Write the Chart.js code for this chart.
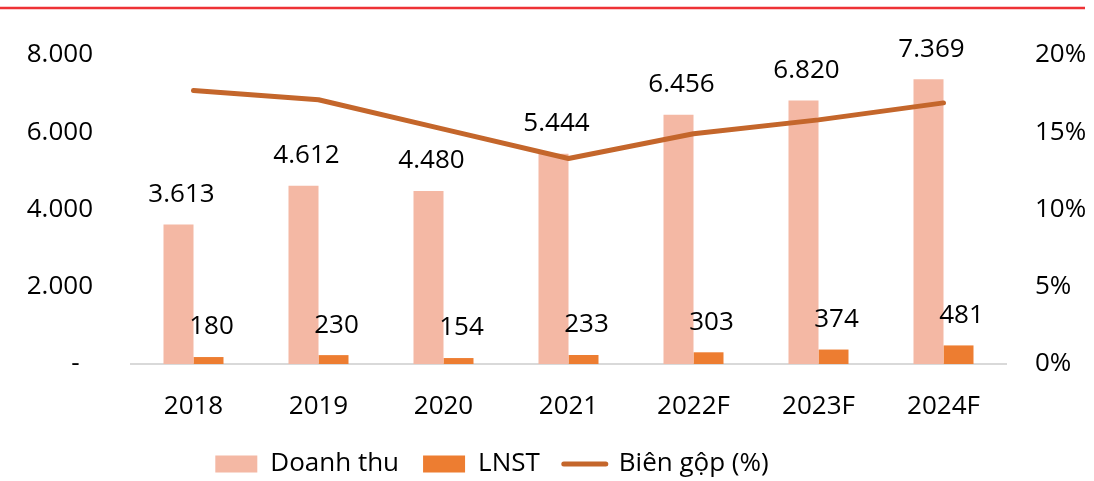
<!DOCTYPE html>
<html>
<head>
<meta charset="utf-8">
<script src="https://cdn.jsdelivr.net/npm/chart.js@4.4.1/dist/chart.umd.min.js"></script>
<style>
  html, body { margin: 0; padding: 0; background: #fff; }
  #wrap { width: 1094px; height: 481px; position: relative; }
</style>
</head>
<body>
<div id="wrap"><canvas id="revChart"></canvas></div>
<script>
// Dữ liệu biểu đồ
const years = ['2018', '2019', '2020', '2021', '2022F', '2023F', '2024F'];
const doanhThu = [3613, 4612, 4480, 5444, 6456, 6820, 7369];
const lnst = [180, 230, 154, 233, 303, 374, 481];
const bienGop = [17.7, 17.1, 15.2, 13.3, 14.9, 15.8, 16.9];

const FONT = "'Open Sans', 'Noto Sans', sans-serif";
const FS = 26;

// định dạng số kiểu Việt Nam: 3.613
function fmtVN(v) {
    return String(Math.round(v)).replace(/\B(?=(\d{3})+(?!\d))/g, '.');
}

// vạch đỏ phía trên
const topRule = {
    id: 'topRule',
    beforeDraw(chart) {
        const ctx = chart.ctx;
        ctx.save();
        ctx.strokeStyle = '#EE3236';
        ctx.lineWidth = 2.5;
        ctx.beginPath();
        ctx.moveTo(0, 8);
        ctx.lineTo(1085, 8);
        ctx.stroke();
        ctx.restore();
    }
};

// nhãn giá trị trên cột (không có plugin datalabels offline)
const barValueLabels = {
    id: 'barValueLabels',
    afterDatasetsDraw(chart) {
        const ctx = chart.ctx;
        ctx.save();
        ctx.font = FS + 'px ' + FONT;
        ctx.fillStyle = '#000';
        ctx.textAlign = 'center';
        ctx.textBaseline = 'middle';
        [0, 1].forEach(function(di) {
            const meta = chart.getDatasetMeta(di);
            meta.data.forEach(function(bar, i) {
                const v = chart.data.datasets[di].data[i];
                ctx.fillText(fmtVN(v), bar.x + 3, bar.y - 30);
            });
        });
        ctx.restore();
    }
};

// dịch chú thích sang trái như bản gốc
const legendShift = {
    id: 'legendShift',
    afterLayout(chart) {
        const lg = chart.legend;
        if (!lg) return;
        lg.left -= 55;
        lg.right -= 55;
    }
};

const ctx = document.getElementById('revChart').getContext('2d');
new Chart(ctx, {
    type: 'bar',
    data: {
        labels: years,
        datasets: [
            {
                label: 'Doanh thu',
                data: doanhThu,
                backgroundColor: '#F4B8A4',
                yAxisID: 'y',
                order: 1,
                categoryPercentage: 0.48,
                barPercentage: 1.0
            },
            {
                label: 'LNST',
                data: lnst,
                backgroundColor: '#ED7D31',
                yAxisID: 'y',
                order: 1,
                categoryPercentage: 0.48,
                barPercentage: 1.0
            },
            {
                type: 'line',
                label: 'Biên gộp (%)',
                data: bienGop,
                borderColor: '#C4662B',
                backgroundColor: '#C4662B',
                borderWidth: 5,
                borderCapStyle: 'round',
                borderJoinStyle: 'round',
                pointRadius: 0,
                tension: 0,
                yAxisID: 'y1',
                order: 0
            }
        ]
    },
    options: {
        responsive: true,
        maintainAspectRatio: false,
        animation: false,
        layout: {
            padding: { top: 55, left: 0, right: 0, bottom: -6 }
        },
        plugins: {
            legend: {
                position: 'bottom',
                labels: {
                    usePointStyle: true,
                    pointStyleWidth: 42,
                    boxHeight: 17,
                    padding: 24,
                    color: '#000',
                    font: { family: FONT, size: FS },
                    sort: function(a, b) { return a.datasetIndex - b.datasetIndex; },
                    generateLabels: function(chart) {
                        return chart.data.datasets.map(function(ds, i) {
                            const isLine = ds.type === 'line';
                            return {
                                text: ds.label,
                                fillStyle: isLine ? ds.borderColor : ds.backgroundColor,
                                strokeStyle: isLine ? ds.borderColor : ds.backgroundColor,
                                lineWidth: isLine ? 5 : 0,
                                lineCap: 'round',
                                pointStyle: isLine ? 'line' : 'rect',
                                datasetIndex: i,
                                hidden: false
                            };
                        });
                    }
                }
            },
            tooltip: { enabled: false }
        },
        scales: {
            x: {
                grid: { display: false, drawTicks: false },
                border: { display: true, color: '#D9D9D9', width: 2 },
                ticks: {
                    color: '#000',
                    padding: 27,
                    font: { family: FONT, size: FS }
                },
                afterFit: function(scale) { scale.height = 63; }
            },
            y: {
                position: 'left',
                min: 0,
                max: 8000,
                grid: { display: false, drawTicks: false },
                border: { display: false },
                ticks: {
                    stepSize: 2000,
                    padding: 38,
                    color: '#000',
                    font: { family: FONT, size: FS },
                    callback: function(v) { return v === 0 ? '-  ' : fmtVN(v); }
                },
                afterFit: function(scale) { scale.width = 131; }
            },
            y1: {
                position: 'right',
                min: 0,
                max: 20,
                grid: { display: false, drawTicks: false },
                border: { display: false },
                ticks: {
                    stepSize: 5,
                    padding: 29,
                    color: '#000',
                    font: { family: FONT, size: FS },
                    callback: function(v) { return v + '%'; }
                },
                afterFit: function(scale) { scale.width = 88; }
            }
        }
    },
    plugins: [topRule, barValueLabels, legendShift]
});
</script>
</body>
</html>
